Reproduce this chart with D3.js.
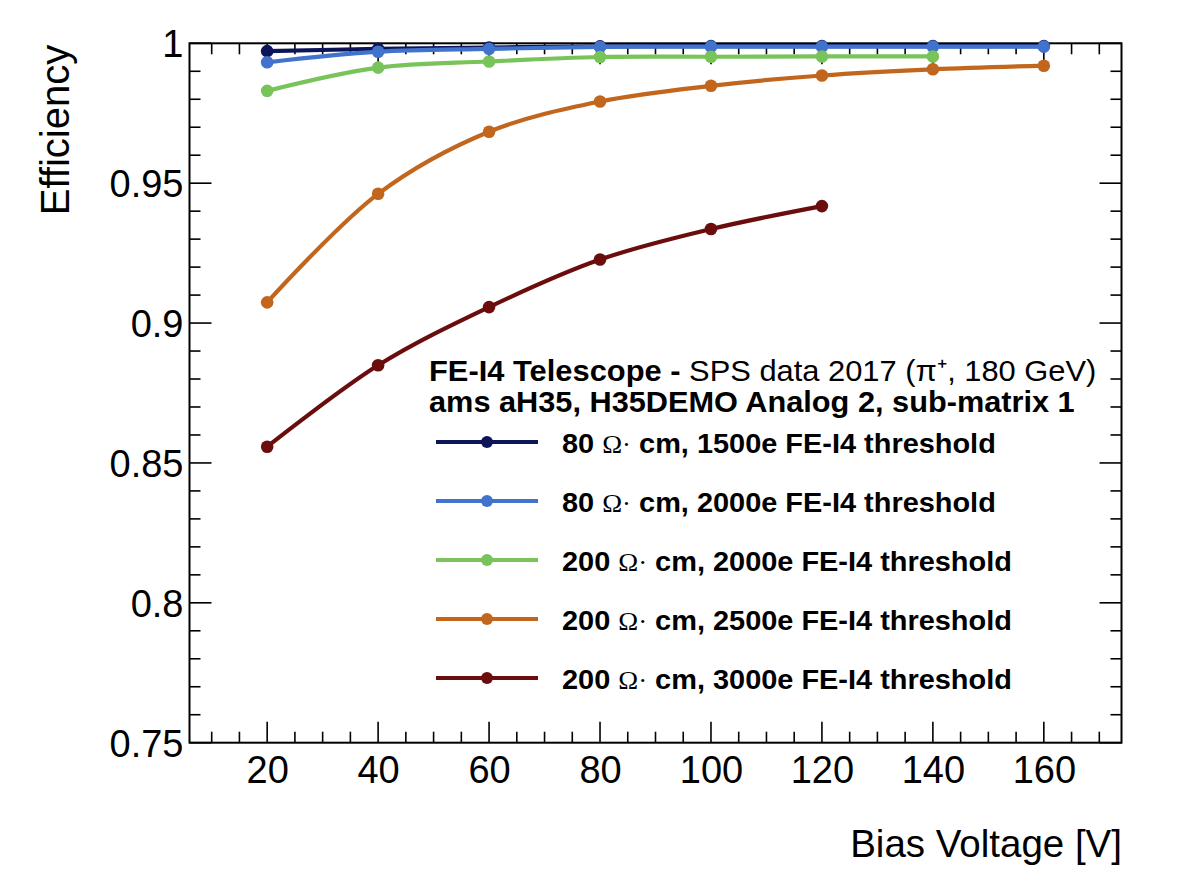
<!DOCTYPE html>
<html>
<head>
<meta charset="utf-8">
<script src="https://cdn.jsdelivr.net/npm/d3@7"></script>
<style>
  html, body { margin: 0; padding: 0; background: #fff; }
  svg { display: block; }
  text { font-family: "Liberation Sans", Arial, Helvetica, sans-serif; fill: #000; }
</style>
</head>
<body>
<svg id="chart" width="1181" height="885"></svg>
<script>
// ---- data ----
const voltages = [20, 40, 60, 80, 100, 120, 140, 160];
const eff80_1500  = [0.9972, 0.9980, 0.9985, 0.9989, 0.9990, 0.9990, 0.9990, 0.9990];
const eff80_2000  = [0.9932, 0.9970, 0.9980, 0.9987, 0.9988, 0.9988, 0.9988, 0.9988];
const eff200_2000 = [0.9830, 0.9913, 0.9935, 0.9951, 0.9952, 0.9953, 0.9953];
const eff200_2500 = [0.9074, 0.9462, 0.9684, 0.9792, 0.9848, 0.9885, 0.9907, 0.9920];
const eff200_3000 = [0.8558, 0.8849, 0.9057, 0.9227, 0.9336, 0.9418];
const seriesNames = [
  ["80", "1500e"],
  ["80", "2000e"],
  ["200", "2000e"],
  ["200", "2500e"],
  ["200", "3000e"]
];
const seriesColors = ["#0c1558", "#4173cc", "#78c45a", "#c2661d", "#6b0d0d"];
const xTicks = [20, 40, 60, 80, 100, 120, 140, 160];
const yTicks = [0.75, 0.8, 0.85, 0.9, 0.95, 1];
const yTickLabels = ["0.75", "0.8", "0.85", "0.9", "0.95", "1"];
const headerBold = "FE-I4 Telescope - ";
const headerNormal = "SPS data 2017 (\u03C0\u207A, 180 GeV)";
const header2 = "ams aH35, H35DEMO Analog 2, sub-matrix 1";
const xTitle = "Bias Voltage [V]";
const yTitle = "Efficiency";

const allSeries = [eff80_1500, eff80_2000, eff200_2000, eff200_2500, eff200_3000];

// ---- layout ----
const svg = d3.select("#chart");
const L = 189.5, R = 1121.5, T = 43.3, B = 742.7;
const x = d3.scaleLinear().domain([6, 174]).range([L, R]);
const y = d3.scaleLinear().domain([0.75, 1]).range([B, T]);

// frame
svg.append("rect").attr("x", L).attr("y", T).attr("width", R - L).attr("height", B - T)
  .attr("fill", "none").attr("stroke", "#000").attr("stroke-width", 2);

// x ticks (bottom & top, inward)
const xMinor = d3.range(10, 174, 5);
const tickG = svg.append("g").attr("stroke", "#000").attr("stroke-width", 1.6);
xMinor.forEach(v => {
  const major = v % 20 === 0;
  const len = major ? 21 : 11;
  tickG.append("line").attr("x1", x(v)).attr("x2", x(v)).attr("y1", B).attr("y2", B - len);
  tickG.append("line").attr("x1", x(v)).attr("x2", x(v)).attr("y1", T).attr("y2", T + len);
});
// y ticks (left & right, inward)
const yMinor = d3.range(0, 26).map(i => 0.75 + i * 0.01);
yMinor.forEach((v, i) => {
  const major = i % 5 === 0;
  const len = major ? 22 : 11;
  tickG.append("line").attr("x1", L).attr("x2", L + len).attr("y1", y(v)).attr("y2", y(v));
  tickG.append("line").attr("x1", R).attr("x2", R - len).attr("y1", y(v)).attr("y2", y(v));
});

// tick labels via d3 axes (tick lines hidden)
const xAxis = d3.axisBottom(x).tickValues(xTicks).tickSize(0).tickPadding(0).tickFormat(d3.format("d"));
const gx = svg.append("g").attr("transform", `translate(0,${B})`).call(xAxis);
gx.select(".domain").remove();
gx.selectAll("text").attr("font-size", 38).attr("dy", null).attr("y", 40)
  .attr("font-family", "Liberation Sans, Arial, sans-serif").attr("fill", "#000");

const yAxis = d3.axisLeft(y).tickValues(yTicks).tickSize(0).tickPadding(0)
  .tickFormat((d, i) => yTickLabels[i]);
const gy = svg.append("g").attr("transform", `translate(${L - 6},0)`).call(yAxis);
gy.select(".domain").remove();
gy.selectAll("text").attr("font-size", 38).attr("dy", "0.35em")
  .attr("font-family", "Liberation Sans, Arial, sans-serif").attr("fill", "#000");

// axis titles
svg.append("text").attr("x", 1122).attr("y", 857).attr("text-anchor", "end")
  .attr("font-size", 38.5).text(xTitle);
svg.append("text").attr("transform", `translate(69,130) rotate(-90)`).attr("text-anchor", "middle")
  .attr("font-size", 40).text(yTitle);

// series
const line = d3.line().x(d => x(d[0])).y(d => y(d[1])).curve(d3.curveCatmullRom.alpha(0.5));
const plotG = svg.append("g");
allSeries.forEach((vals, k) => {
  const pts = vals.map((v, i) => [voltages[i], v]);
  plotG.append("path").datum(pts).attr("d", line).attr("fill", "none")
    .attr("stroke", seriesColors[k]).attr("stroke-width", 4.2).attr("stroke-linejoin", "round");
  plotG.selectAll(null).data(pts).enter().append("circle")
    .attr("cx", d => x(d[0])).attr("cy", d => y(d[1])).attr("r", 6.3)
    .attr("fill", seriesColors[k]);
});

// helper: fit text width by horizontal scaling
function fitText(g, x0, baseline, targetW) {
  const node = g.node();
  const w = node.getBBox().width;
  const sx = targetW / w;
  g.attr("transform", `translate(${x0},${baseline}) scale(${sx},1)`);
}

// header
const h1 = svg.append("g");
const h1t = h1.append("text").attr("font-size", 29);
h1t.append("tspan").attr("font-weight", "bold").text(headerBold);
h1t.append("tspan").text(headerNormal);
fitText(h1, 429, 381, 668);

const h2 = svg.append("g");
h2.append("text").attr("font-size", 29).attr("font-weight", "bold").text(header2);
fitText(h2, 429, 412, 646);

// legend entries
const legY = [442, 501, 560, 619, 678];
seriesNames.forEach((nm, k) => {
  const ly = legY[k];
  svg.append("line").attr("x1", 436).attr("x2", 538).attr("y1", ly).attr("y2", ly)
    .attr("stroke", seriesColors[k]).attr("stroke-width", 4.2);
  svg.append("circle").attr("cx", 487).attr("cy", ly).attr("r", 6).attr("fill", seriesColors[k]);
  const g = svg.append("g");
  const t = g.append("text").attr("font-size", 27);
  t.append("tspan").attr("font-weight", "bold").text(nm[0] + " ");
  t.append("tspan").attr("font-family", "Liberation Serif, Times New Roman, serif").attr("font-size", 25).text("\u03A9\u00B7");
  t.append("tspan").attr("font-weight", "bold").text(" cm, " + nm[1] + " FE-I4 threshold");
  fitText(g, 562, ly + 11, nm[0].length === 2 ? 434 : 450);
});
</script>
</body>
</html>
